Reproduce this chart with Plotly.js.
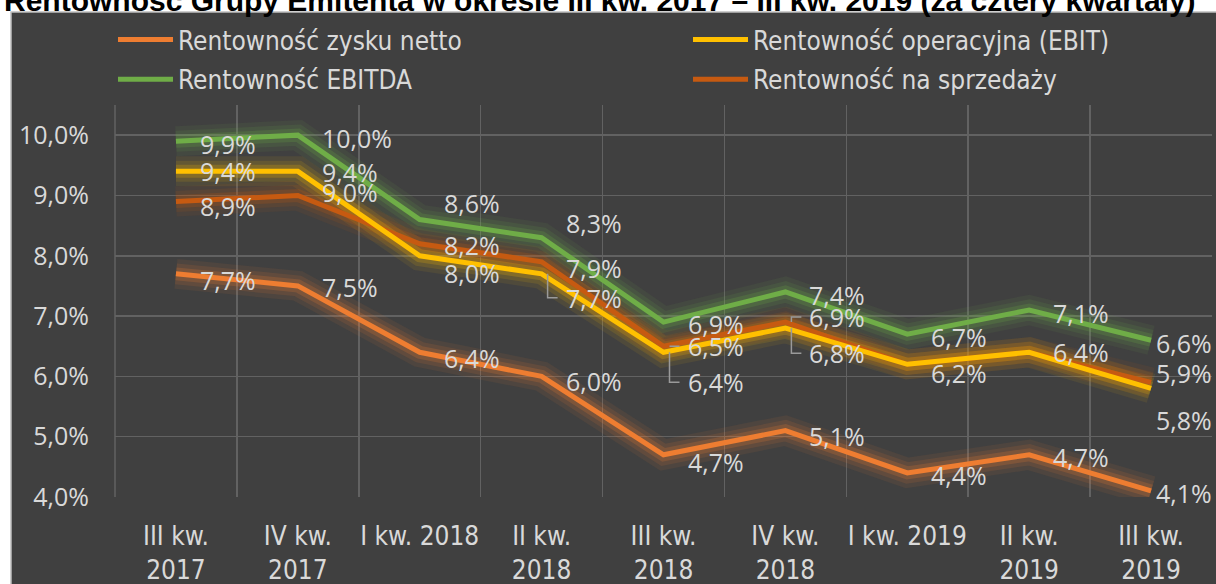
<!DOCTYPE html>
<html>
<head>
<meta charset="utf-8">
<script src="https://cdn.plot.ly/plotly-3.0.1.min.js"></script>
<style>
  html, body { margin: 0; padding: 0; background: #ffffff; }
  #chart { width: 1216px; height: 584px; }
</style>
</head>
<body>
<div id="chart"></div>
<script>
// ---- data ----
const categories = ["III kw.<br>2017", "IV kw.<br>2017", "I kw. 2018", "II kw.<br>2018", "III kw.<br>2018",
                    "IV kw.<br>2018", "I kw. 2019", "II kw.<br>2019", "III kw.<br>2019"];
const netto    = [7.7, 7.5, 6.4, 6.0, 4.7, 5.1, 4.4, 4.7, 4.1];
const ebit     = [9.4, 9.4, 8.0, 7.7, 6.4, 6.8, 6.2, 6.4, 5.8];
const ebitda   = [9.9, 10.0, 8.6, 8.3, 6.9, 7.4, 6.7, 7.1, 6.6];
const sprzedaz = [8.9, 9.0, 8.2, 7.9, 6.5, 6.9, 6.2, 6.4, 5.9];
const seriesNames = {
  netto: "Rentowność zysku netto",
  ebit: "Rentowność operacyjna (EBIT)",
  ebitda: "Rentowność EBITDA",
  sprzedaz: "Rentowność na sprzedaży"
};
const yTickVals = [4, 5, 6, 7, 8, 9, 10];
const titleText = "Rentowność Grupy Emitenta w okresie III kw. 2017 – III kw. 2019 (za cztery kwartały)";

// ---- styles ----
const colors = { netto: "#EE7D31", ebit: "#FFC000", ebitda: "#6FAD47", sprzedaz: "#C65A11" };
const values = { netto, ebit, ebitda, sprzedaz };
const legendOf = { netto: "legend", ebitda: "legend", ebit: "legend2", sprzedaz: "legend2" };
const legendRank = { netto: 1, ebitda: 2, ebit: 1, sprzedaz: 2 };
const drawOrder = ["sprzedaz", "netto", "ebitda", "ebit"];
const labelFont = { family: "Open Sans, DejaVu Sans, sans-serif", size: 25, color: "#D9D9D9" };
const condFont = "DejaVu Sans Condensed, Liberation Sans Narrow, DejaVu Sans, sans-serif";
const gridColor = "#626262";

// label placement (pixel offsets relative to the point; dy positive = downwards)
const labelDefault = { dx: 22, dy: 3 };
const labelOverride = {
  "ebitda-2": { dy: -17 }, "ebitda-3": { dy: -15 }, "ebitda-4": { dy: 2 },
  "ebit-0": { dy: 0 }, "ebit-1": { dy: 1 }, "ebit-2": { dy: 17 }, "ebit-3": { dy: 24 },
  "ebit-4": { dy: 30 }, "ebit-5": { dy: 25 }, "ebit-6": { dy: 9 }, "ebit-7": { dy: 0 }, "ebit-8": { dy: 32 },
  "sprzedaz-0": { dy: 5 }, "sprzedaz-1": { dy: -3 }, "sprzedaz-2": { dy: 1 }, "sprzedaz-3": { dy: 6 },
  "sprzedaz-4": { dy: 0 }, "sprzedaz-5": { dy: -5 }, "sprzedaz-8": { dy: -9 },
  "netto-0": { dy: 6 }, "netto-1": { dy: 1 }, "netto-2": { dy: 6 }, "netto-3": { dy: 5 },
  "netto-4": { dy: 7 }, "netto-5": { dy: 5 }, "netto-6": { dy: 2 }, "netto-7": { dy: 2 }, "netto-8": { dy: 2 }
};
const labelHidden = ["sprzedaz-6", "sprzedaz-7"];
const labelLeader = ["ebit-3", "ebit-4", "sprzedaz-4", "ebit-5", "sprzedaz-5"];
const lastDx = 3;

function hexToRgba(hex, a) {
  const r = parseInt(hex.slice(1, 3), 16), g = parseInt(hex.slice(3, 5), 16), b = parseInt(hex.slice(5, 7), 16);
  return `rgba(${r},${g},${b},${a})`;
}
function fmt(v) { return v.toFixed(1).replace(".", ",") + "%"; }

const traces = [];
// glow layers
[[30, 0.08], [21, 0.12], [13, 0.2]].forEach(([w, a]) => {
  drawOrder.forEach(k => {
    traces.push({
      type: "scatter", mode: "lines", x: categories, y: values[k],
      line: { color: hexToRgba(colors[k], a), width: w },
      showlegend: false, hoverinfo: "skip"
    });
  });
});
// main lines
drawOrder.forEach(k => {
  traces.push({
    type: "scatter", mode: "lines", name: seriesNames[k], x: categories, y: values[k],
    line: { color: colors[k], width: 5 }, legend: legendOf[k], legendrank: legendRank[k],
    legendgroup: k
  });
});

// data labels + leader lines
const annotations = [];
const shapes = [];
Object.keys(values).forEach(k => {
  values[k].forEach((v, i) => {
    const key = k + "-" + i;
    if (labelHidden.includes(key)) return;
    const o = Object.assign({}, labelDefault, labelOverride[key] || {});
    if (i === categories.length - 1) o.dx = lastDx;
    annotations.push({
      x: categories[i], y: v, xref: "x", yref: "y", text: fmt(v), showarrow: false,
      xanchor: "left", yanchor: "middle", xshift: o.dx, yshift: -o.dy, font: labelFont
    });
    if (labelLeader.includes(key)) {
      shapes.push({
        type: "path", xref: "x", yref: "y", xsizemode: "pixel", ysizemode: "pixel",
        xanchor: i, yanchor: v, layer: "above",
        path: `M 6,0 L 6,${-o.dy} L ${o.dx - 6},${-o.dy}`,
        line: { color: "#9A9A9A", width: 1.5 }
      });
    }
  });
});

const legendBase = {
  orientation: "v", xanchor: "left", yanchor: "top", xref: "container", yref: "container",
  y: 1 - 16 / 584, traceorder: "grouped", tracegroupgap: 3, itemwidth: 55,
  font: { family: condFont, size: 26, color: "#D9D9D9" }, bgcolor: "rgba(0,0,0,0)"
};

const layout = {
  width: 1216, height: 584,
  margin: { l: 115, r: 4, t: 105, b: 87, autoexpand: false },
  paper_bgcolor: "#ffffff",
  plot_bgcolor: "rgba(0,0,0,0)",
  separators: ", ",
  title: {
    text: "<b>" + titleText + "</b>",
    font: { family: "Liberation Sans, Arial, sans-serif", size: 30, color: "#000000" },
    x: 4 / 1216, xanchor: "left", xref: "container",
    y: 1, yanchor: "middle", yref: "container"
  },
  shapes: [{
    type: "rect", xref: "paper", yref: "paper", layer: "below",
    x0: (11 - 115) / 1097, x1: (1217 - 115) / 1097,
    y0: (497 - 586) / 392, y1: (497 - 12) / 392,
    fillcolor: "#404040", line: { color: "#BFBFBF", width: 1.5 }
  }, {
    type: "line", xref: "paper", yref: "paper", layer: "below",
    x0: 0, x1: 0, y0: 0, y1: 1, line: { color: gridColor, width: 1.5 }
  }].concat(shapes),
  xaxis: {
    type: "category", range: [-0.5, 8.5], tickson: "boundaries", automargin: false,
    showgrid: true, gridcolor: gridColor, gridwidth: 1.5, tickangle: 0,
    showline: false, zeroline: false, ticks: "",
    tickfont: { family: condFont, size: 26, color: "#D9D9D9" },
    ticklabelstandoff: 21
  },
  yaxis: {
    range: [4, 10.5], tickvals: yTickVals, ticktext: yTickVals.map(fmt), automargin: false,
    showgrid: true, gridcolor: gridColor, gridwidth: 1.5,
    zeroline: false, showline: false, ticks: "",
    tickfont: { family: "Open Sans, DejaVu Sans, sans-serif", size: 25, color: "#D9D9D9" },
    ticklabelstandoff: 25
  },
  legend: Object.assign({}, legendBase, { x: 113 / 1216 }),
  legend2: Object.assign({}, legendBase, { x: 688 / 1216 }),
  annotations: annotations,
  showlegend: true
};

Plotly.newPlot("chart", traces, layout, { displayModeBar: false, staticPlot: true });
</script>
</body>
</html>
